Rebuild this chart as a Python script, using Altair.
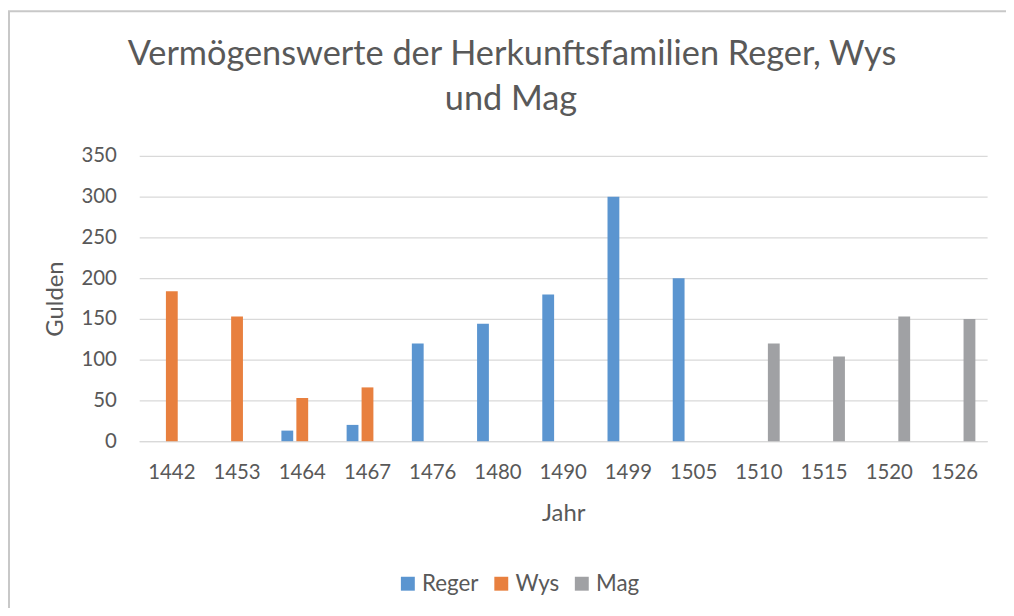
import altair as alt
import pandas as pd

years = ["1442", "1453", "1464", "1467", "1476", "1480", "1490", "1499", "1505", "1510", "1515", "1520", "1526"]
series = ["Reger", "Wys", "Mag"]
reger = [None, None, 13, 20, 120, 144, 180, 300, 200, None, None, None, None]
wys = [184, 153, 53, 66, None, None, None, None, None, None, None, None, None]
mag = [None, None, None, None, None, None, None, None, None, 120, 104, 153, 150]
colors = ["#5B95D0", "#E8803F", "#A0A1A4"]
title_lines = ["Vermögenswerte der Herkunftsfamilien Reger, Wys", "und Mag"]

rows = []
for name, vals in zip(series, [reger, wys, mag]):
    for y, v in zip(years, vals):
        if v is not None:
            rows.append({"Jahr": y, "Familie": name, "Gulden": v})
df = pd.DataFrame(rows)

FONT = "Lato"
GRAY = "#595959"

bars = alt.Chart(df).mark_bar().encode(
    x=alt.X("Jahr:N", sort=years,
            scale=alt.Scale(paddingInner=0.36, paddingOuter=0.18),
            axis=alt.Axis(title="Jahr", labelAngle=0, ticks=False, domain=True,
                          domainColor="#D9D9D9", domainWidth=1.3,
                          labelPadding=22, titlePadding=18)),
    xOffset=alt.XOffset("Familie:N", sort=series,
                        scale=alt.Scale(domain=series, paddingInner=0.21, paddingOuter=0)),
    y=alt.Y("Gulden:Q", scale=alt.Scale(domain=[0, 350]),
            axis=alt.Axis(title="Gulden", values=list(range(0, 351, 50)), ticks=False,
                          domain=False, grid=True, gridColor="#D9D9D9", gridWidth=1.3,
                          labelPadding=23, titlePadding=14)),
    color=alt.Color("Familie:N", sort=series,
                    scale=alt.Scale(domain=series, range=colors),
                    legend=alt.Legend(title=None, orient="none", direction="horizontal",
                                      legendX=259, legendY=419, symbolType="square",
                                      symbolSize=196, symbolStrokeWidth=0,
                                      labelFontSize=22.5, labelColor=GRAY, labelFont=FONT,
                                      labelOffset=3, columnPadding=11)),
)

one = alt.Data(values=[{}])
border_left = alt.Chart(one).mark_rule(color="#C8C8C8", strokeWidth=2).encode(
    x=alt.value(-131), y=alt.value(-145.5), y2=alt.value(470))
border_top = alt.Chart(one).mark_rule(color="#C8C8C8", strokeWidth=2).encode(
    x=alt.value(-132), x2=alt.value(900), y=alt.value(-145.5))

title1 = alt.Chart(one).mark_text(
    text=title_lines[0], font=FONT, fontSize=34.5, color=GRAY, align="center", baseline="alphabetic"
).encode(x=alt.value(375), y=alt.value(-91))
title2 = alt.Chart(one).mark_text(
    text=title_lines[1], font=FONT, fontSize=34.5, color=GRAY, align="center", baseline="alphabetic"
).encode(x=alt.value(374), y=alt.value(-46))

chart = alt.layer(border_left, border_top, title1, title2, bars).properties(
    width=853, height=287,
    padding={"left": 132, "top": 147, "right": 19, "bottom": 166},
    autosize=alt.AutoSizeParams(type="none"),
).configure_view(stroke=None).configure_axis(
    labelFont=FONT, titleFont=FONT, labelFontSize=20.5, titleFontSize=24,
    labelColor=GRAY, titleColor=GRAY, titleFontWeight="normal"
)

chart.save("out.html", embed_options={"renderer": "svg", "actions": False})
